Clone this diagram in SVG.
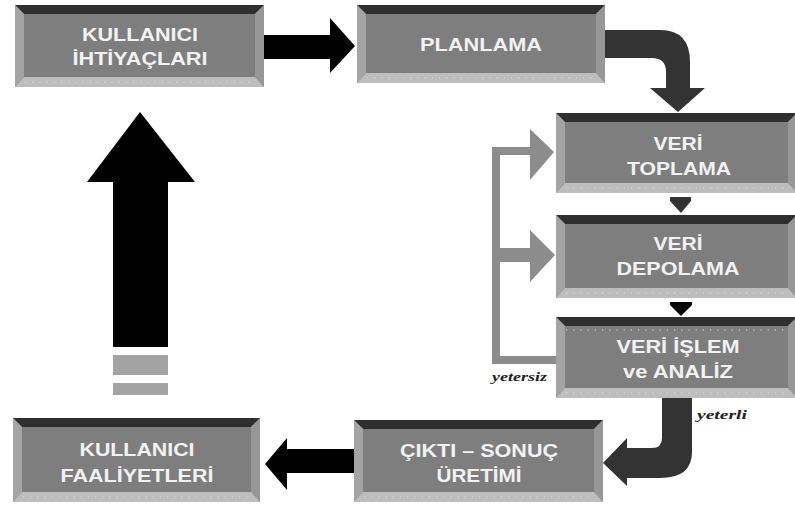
<svg xmlns="http://www.w3.org/2000/svg" width="795" height="507" viewBox="0 0 795 507">
<style>
.face{fill:#7e7e7e}
.top{fill:#2f2f2f}
.lft{fill:#a4a4a4}
.rgt{fill:#979797}
.bot{fill:#bdbdbd}
.dots{stroke:#e2e2e2;stroke-width:1.2;stroke-dasharray:1.2 6}
.lbl{font-family:"Liberation Sans",Arial,sans-serif;font-weight:bold;font-size:18px;fill:#f2f2f2;text-anchor:middle}
.note{font-family:"Liberation Serif","Times New Roman",serif;font-style:italic;font-weight:bold;font-size:13px;fill:#222}
.blk{fill:#000}
.drk{fill:#333}
.gry{fill:#8c8c8c}
</style>
<rect width="795" height="507" fill="#fff"/>

<g id="connectors">
  <!-- box1 -> planlama -->
  <path class="blk" d="M264,35 L330,35 L330,18 L355,46 L330,73 L330,59 L264,59 Z"/>
  <!-- planlama -> veri toplama -->
  <path class="drk" d="M605,30 L660,30 Q690,30 690,62 L690,88 L705,88 L678,112 L650,88 L666,88 L666,72 Q666,58 652,58 L605,58 Z"/>
  <!-- small triangles -->
  <path class="drk" d="M670,197 L691,197 L691,201 L681,213 L670,201 Z"/>
  <path class="blk" d="M670,302 L692,302 L692,305 L681,316 L670,305 Z"/>
  <!-- feedback (yetersiz) -->
  <path class="gry" d="M492,147 L530,147 L530,129 L554,152 L530,180 L530,155 L500,155 L500,248 L530,248 L530,230 L555,255 L530,282 L530,262 L500,262 L500,356 L556,356 L556,364 L492,364 Z"/>
  <!-- veri islem -> cikti (yeterli) -->
  <path class="drk" d="M662,398 L692,398 L692,452 Q692,478 660,478 L627,478 L627,486 L603,463 L627,438 L627,448 L652,448 Q662,448 662,438 Z"/>
  <!-- cikti -> kullanici faaliyetleri -->
  <path class="blk" d="M354,449 L287,449 L287,438 L265,464 L287,490 L287,473 L354,473 Z"/>
  <!-- big up arrow -->
  <path class="blk" d="M140,112 L195,182 L168,182 L168,347 L113,347 L113,182 L87,182 Z"/>
  <rect x="113" y="355" width="55" height="20" fill="#a3a3a3"/>
  <rect x="113" y="383" width="55" height="12" fill="#a3a3a3"/>
  <text class="note" x="492" y="381" textLength="55" lengthAdjust="spacingAndGlyphs">yetersiz</text>
  <text class="note" x="697" y="419" textLength="50" lengthAdjust="spacingAndGlyphs">yeterli</text>
</g>

<g id="kullanici-ihtiyaclari" transform="translate(15,5)">
  <rect class="face" width="249" height="82"/>
  <polygon class="top" points="0,0 249,0 240,9 9,9"/>
  <polygon class="lft" points="0,0 9,9 9,72 0,82"/>
  <polygon class="rgt" points="249,0 249,82 240,72 240,9"/>
  <polygon class="bot" points="0,82 9,72 240,72 249,82"/>
  <line class="dots" x1="10" y1="77" x2="240" y2="77"/>
  <text class="lbl" x="125" y="36" textLength="116" lengthAdjust="spacingAndGlyphs">KULLANICI</text>
  <text class="lbl" x="125" y="60" textLength="135" lengthAdjust="spacingAndGlyphs">İHTİYAÇLARI</text>
</g>

<g id="planlama" transform="translate(357,5)">
  <rect class="face" width="248" height="78"/>
  <polygon class="top" points="0,0 248,0 239,9 9,9"/>
  <polygon class="lft" points="0,0 9,9 9,68 0,78"/>
  <polygon class="rgt" points="248,0 248,78 239,68 239,9"/>
  <polygon class="bot" points="0,78 9,68 239,68 248,78"/>
  <line class="dots" x1="10" y1="73" x2="239" y2="73"/>
  <text class="lbl" x="124" y="46" textLength="122" lengthAdjust="spacingAndGlyphs">PLANLAMA</text>
</g>

<g id="veri-toplama" transform="translate(556,113)">
  <rect class="face" width="241" height="80"/>
  <polygon class="top" points="0,0 241,0 232,9 9,9"/>
  <polygon class="lft" points="0,0 9,9 9,70 0,80"/>
  <polygon class="rgt" points="241,0 241,80 232,70 232,9"/>
  <polygon class="bot" points="0,80 9,70 232,70 241,80"/>
  <line class="dots" x1="10" y1="75" x2="232" y2="75"/>
  <text class="lbl" x="122" y="37" textLength="49" lengthAdjust="spacingAndGlyphs">VERİ</text>
  <text class="lbl" x="123" y="62" textLength="104" lengthAdjust="spacingAndGlyphs">TOPLAMA</text>
</g>

<g id="veri-depolama" transform="translate(556,215)">
  <rect class="face" width="241" height="83"/>
  <polygon class="top" points="0,0 241,0 232,9 9,9"/>
  <polygon class="lft" points="0,0 9,9 9,73 0,83"/>
  <polygon class="rgt" points="241,0 241,83 232,73 232,9"/>
  <polygon class="bot" points="0,83 9,73 232,73 241,83"/>
  <line class="dots" x1="10" y1="78" x2="232" y2="78"/>
  <text class="lbl" x="122" y="35" textLength="49" lengthAdjust="spacingAndGlyphs">VERİ</text>
  <text class="lbl" x="122" y="60" textLength="123" lengthAdjust="spacingAndGlyphs">DEPOLAMA</text>
</g>

<g id="veri-islem-analiz" transform="translate(556,317)">
  <rect class="face" width="241" height="81"/>
  <polygon class="top" points="0,0 241,0 232,9 9,9"/>
  <polygon class="lft" points="0,0 9,9 9,71 0,81"/>
  <polygon class="rgt" points="241,0 241,81 232,71 232,9"/>
  <polygon class="bot" points="0,81 9,71 232,71 241,81"/>
  <line class="dots" x1="10" y1="13" x2="232" y2="13"/>
  <line class="dots" x1="10" y1="76" x2="232" y2="76"/>
  <text class="lbl" x="122" y="36" textLength="123" lengthAdjust="spacingAndGlyphs">VERİ İŞLEM</text>
  <text class="lbl" x="122" y="61" textLength="110" lengthAdjust="spacingAndGlyphs">ve ANALİZ</text>
</g>

<g id="cikti-sonuc-uretimi" transform="translate(354,420)">
  <rect class="face" width="249" height="82"/>
  <polygon class="top" points="0,0 249,0 240,9 9,9"/>
  <polygon class="lft" points="0,0 9,9 9,72 0,82"/>
  <polygon class="rgt" points="249,0 249,82 240,72 240,9"/>
  <polygon class="bot" points="0,82 9,72 240,72 249,82"/>
  <line class="dots" x1="10" y1="77" x2="240" y2="77"/>
  <text class="lbl" x="125" y="37" textLength="158" lengthAdjust="spacingAndGlyphs">ÇIKTI – SONUÇ</text>
  <text class="lbl" x="125" y="62" textLength="85" lengthAdjust="spacingAndGlyphs">ÜRETİMİ</text>
</g>

<g id="kullanici-faaliyetleri" transform="translate(13,418)">
  <rect class="face" width="247" height="84"/>
  <polygon class="top" points="0,0 247,0 238,9 9,9"/>
  <polygon class="lft" points="0,0 9,9 9,74 0,84"/>
  <polygon class="rgt" points="247,0 247,84 238,74 238,9"/>
  <polygon class="bot" points="0,84 9,74 238,74 247,84"/>
  <line class="dots" x1="10" y1="79" x2="238" y2="79"/>
  <text class="lbl" x="124" y="38" textLength="115" lengthAdjust="spacingAndGlyphs">KULLANICI</text>
  <text class="lbl" x="124" y="64" textLength="153" lengthAdjust="spacingAndGlyphs">FAALİYETLERİ</text>
</g>
</svg>
